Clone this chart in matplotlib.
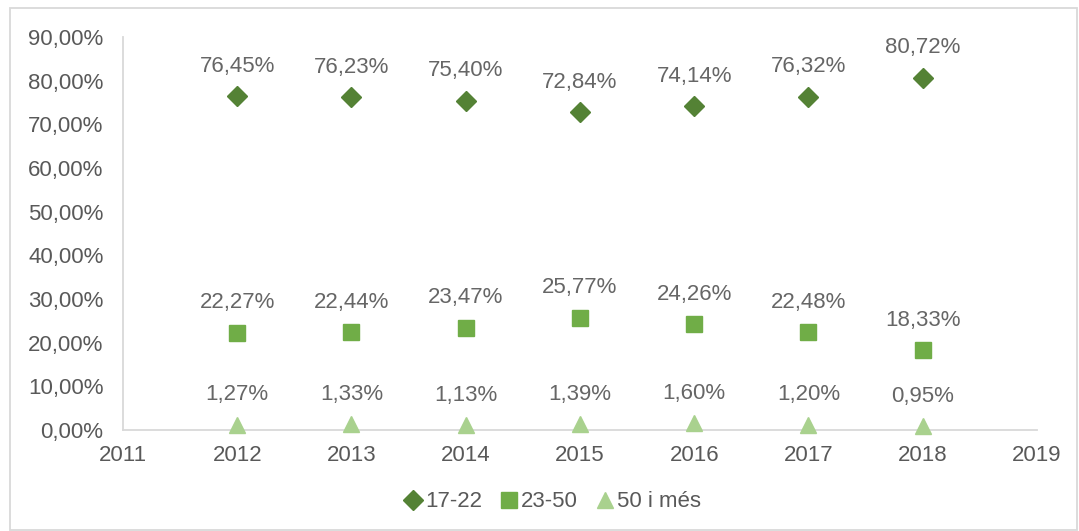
import matplotlib.pyplot as plt
from matplotlib.patches import Rectangle

plt.rcParams['font.family'] = ['Liberation Sans', 'DejaVu Sans']

years = [2012, 2013, 2014, 2015, 2016, 2017, 2018]
age_17_22 = [76.45, 76.23, 75.40, 72.84, 74.14, 76.32, 80.72]
age_23_50 = [22.27, 22.44, 23.47, 25.77, 24.26, 22.48, 18.33]
age_50_mes = [1.27, 1.33, 1.13, 1.39, 1.60, 1.20, 0.95]
series_names = ['17-22', '23-50', '50 i més']

grey = '#595959'
fig = plt.figure(figsize=(10.79, 5.31), dpi=100)
ax = fig.add_axes([0.114, 0.19, 0.847, 0.74])

styles = [('D', '#548235', 10), ('s', '#70AD47', 12), ('^', '#A9D18E', 12)]
for vals, name, (mk, col, ms) in zip([age_17_22, age_23_50, age_50_mes], series_names, styles):
    ax.plot(years, vals, linestyle='none', marker=mk, color=col, markersize=ms, label=name,
            clip_on=False, zorder=3)
    for x, y in zip(years, vals):
        ax.annotate('{:.2f}%'.format(y).replace('.', ','), (x, y), xytext=(0, 14),
                    textcoords='offset points', ha='center', va='bottom',
                    fontsize=16, color='#666666')

ax.set_xlim(2011, 2019)
ax.set_ylim(0, 90)
ax.set_xticks(range(2011, 2020))
ax.set_yticks(range(0, 91, 10))
ax.set_yticklabels(['{},00%'.format(v) for v in range(0, 91, 10)])
ax.tick_params(length=0, labelsize=16, labelcolor=grey)
ax.tick_params(axis='y', pad=14)
ax.tick_params(axis='x', pad=11)
for s in ['top', 'right']:
    ax.spines[s].set_visible(False)
for s in ['left', 'bottom']:
    ax.spines[s].set_color('#D9D9D9')
    ax.spines[s].set_linewidth(1.3)

leg = fig.legend(loc='center', bbox_to_anchor=(0.511, 0.055), ncol=3, frameon=False,
                 fontsize=16, handletextpad=0.05, columnspacing=0.7, handlelength=1.0)
for t in leg.get_texts():
    t.set_color(grey)

fig.patches.append(Rectangle((0.009, 0.002), 0.989, 0.983, transform=fig.transFigure,
                             fill=False, edgecolor='#D9D9D9', linewidth=1.3))

fig.savefig('out.png', dpi=100)
